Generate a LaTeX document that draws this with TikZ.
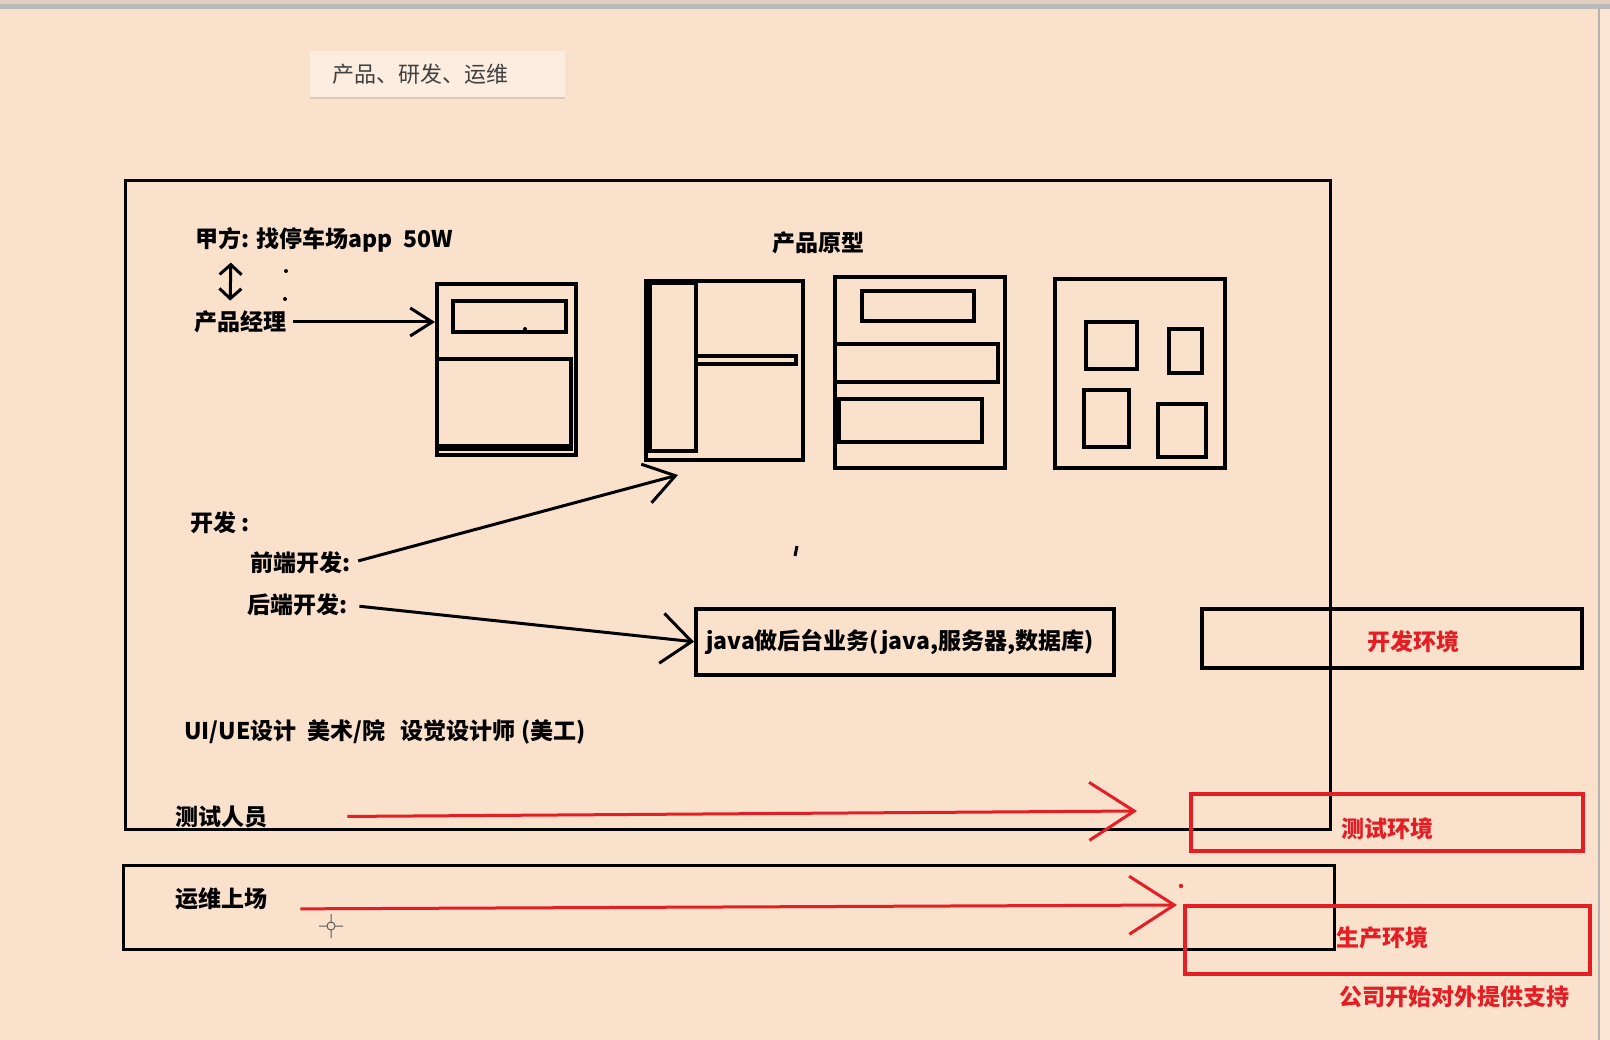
\documentclass[tikz,border=0pt]{standalone}
\usepackage{fontspec}
\setmainfont{Noto Sans CJK SC}
\usetikzlibrary{arrows.meta, shadows}
\definecolor{paper}{RGB}{250,225,204}
\definecolor{pen}{RGB}{228,30,36}
\tikzset{frame/.style={draw,line width=3pt},proto/.style={draw,line width=4pt,inner sep=0pt,anchor=north west},lbl/.style={anchor=west,inner sep=0pt,font=\fontsize{23}{27}\selectfont\bfseries},redlbl/.style={lbl,text=pen},envbox/.style={draw,line width=3.5pt,inner sep=0pt,anchor=north west},line/.style={-{Straight Barb[length=22pt,width=28pt]},line width=3pt},redline/.style={-{Straight Barb[length=45pt,width=58pt]},line width=3pt,draw=pen}}

\begin{document}
\begin{tikzpicture}[x=1pt,y=-1pt]
\useasboundingbox (0,0) rectangle (1610,1040);
\fill[paper] (0,0) rectangle (1610,1040);
\fill[paper!80!gray] (0,0) rectangle (1610,4);
\fill[gray!55] (0,4) rectangle (1610,9);
\fill[paper!85!white] (1599,9) rectangle (1610,1040);
\draw[gray!60,line width=2pt] (1599,9) -- (1599,1040);
% title
\node[anchor=west,fill=paper!60!white,drop shadow={opacity=0.25,shadow xshift=0pt,shadow yshift=-2pt},inner xsep=22pt,text width=211pt,minimum height=46pt,text=black!75,font=\fontsize{22}{26}\selectfont] (title) at (310,74) {产品、研发、运维};
% frames
\node[frame,inner sep=0pt,anchor=north west,minimum width=1205pt,minimum height=649pt] (team) at (124,179) {};
\node[frame,inner sep=0pt,anchor=north west,minimum width=1211pt,minimum height=84pt] (opsbox) at (122,864) {};
% product
\node[lbl] (client) at (195,240) {甲方: 找停车场app\ \ 50W};
\node[lbl] (pm) at (194,322) {产品经理};
\draw[{Straight Barb[length=10pt,width=22pt]}-{Straight Barb[length=10pt,width=22pt]},line width=3pt,shorten <=10pt,shorten >=10pt] ([xshift=36pt]client.south west) -- ([xshift=36pt]pm.north west);
\fill (286,271) circle (2pt) (285,299) circle (2pt);
\node[lbl] (proto) at (772,243) {产品原型};
% prototype 1
\node[proto,minimum width=139pt,minimum height=171pt] (p1) at (435,282) {};
\draw[line width=4pt] (453,301) rectangle (566,332);
\draw[line width=4pt] (437,359) rectangle (571,449);
\draw[line width=7pt] (437,448) -- (571,448);
\fill (525,329) circle (2pt);
% prototype 2
\node[proto,minimum width=157pt,minimum height=179pt] (p2) at (644,279) {};
\draw[line width=4pt] (650,283) rectangle (696,451);
\draw[line width=3.5pt] (696,356) rectangle (796,364);
% prototype 3
\node[proto,minimum width=170pt,minimum height=191pt] (p3) at (833,275) {};
\draw[line width=4pt] (862,291) rectangle (974,321);
\draw[line width=4pt] (835,344) rectangle (998,382);
\draw[line width=4pt] (839,399) rectangle (982,442);
% prototype 4
\node[proto,minimum width=170pt,minimum height=189pt] (p4) at (1053,277) {};
\draw[line width=4pt] (1086,322) rectangle (1137,369);
\draw[line width=4pt] (1169,329) rectangle (1202,373);
\draw[line width=4pt] (1084,390) rectangle (1129,447);
\draw[line width=4pt] (1158,404) rectangle (1206,457);
\draw[line,shorten <=7pt] (pm.east) -- (pm.east -| p1.west);
% development
\node[lbl] (dev) at (190,523) {开发 :};
\node[lbl] (fe) at (250,563) {前端开发:};
\node[lbl] (be) at (247,605) {后端开发:};
\node[proto,line width=3.5pt,minimum width=418pt,minimum height=66pt] (java) at (694,607) {};
\node[lbl] (javatxt) at (706,642) {java做后台业务(java,服务器,数据库)};
\coordinate (fetip) at (678,475);
\draw[-{Straight Barb[length=30pt,width=40pt]},line width=3pt,shorten <=8pt] (fe.east) -- (fetip);
\draw[line,-{Straight Barb[length=30pt,width=50pt]},shorten <=12pt] (be.east) -- (java.west);
\draw[line width=3pt] (797,546) -- (795,556);
\node[lbl] (ui) at (184,732) {UI/UE设计\ \ 美术/院\ \ \ 设觉设计师\ (美工)};
% environments
\node[envbox,minimum width=380pt,minimum height=59pt] (devenv) at (1200,607) {};
\node[redlbl] (devtxt) at (1367,642) {开发环境};
\node[envbox,draw=pen,minimum width=392pt,minimum height=57pt] (testenv) at (1189,792) {};
\node[redlbl] (testtxt) at (1341,829) {测试环境};
\node[envbox,draw=pen,minimum width=405pt,minimum height=68pt] (prodenv) at (1183,904) {};
\node[redlbl] (prodtxt) at (1336,938) {生产环境};
\node[redlbl] (support) at (1339,997) {公司开始对外提供支持};
% testing and operations
\node[lbl] (tester) at (175,817) {测试人员};
\node[lbl] (ops) at (175,899) {运维上场};
\coordinate (testtip) at (1137,811);
\coordinate (prodtip) at (1177,905);
\draw[redline,shorten <=80pt] (tester.east) -- (testtip);
\draw[redline,shorten <=33pt] ([yshift=-10pt]ops.east) -- (prodtip);
\fill[pen] (1181,886) circle (2.2pt);
\draw[gray!70!black,line width=1pt] (331,926) circle (4pt) (319,926) -- (327,926) (335,926) -- (343,926) (331,914) -- (331,922) (331,930) -- (331,938);
\end{tikzpicture}
\end{document}
